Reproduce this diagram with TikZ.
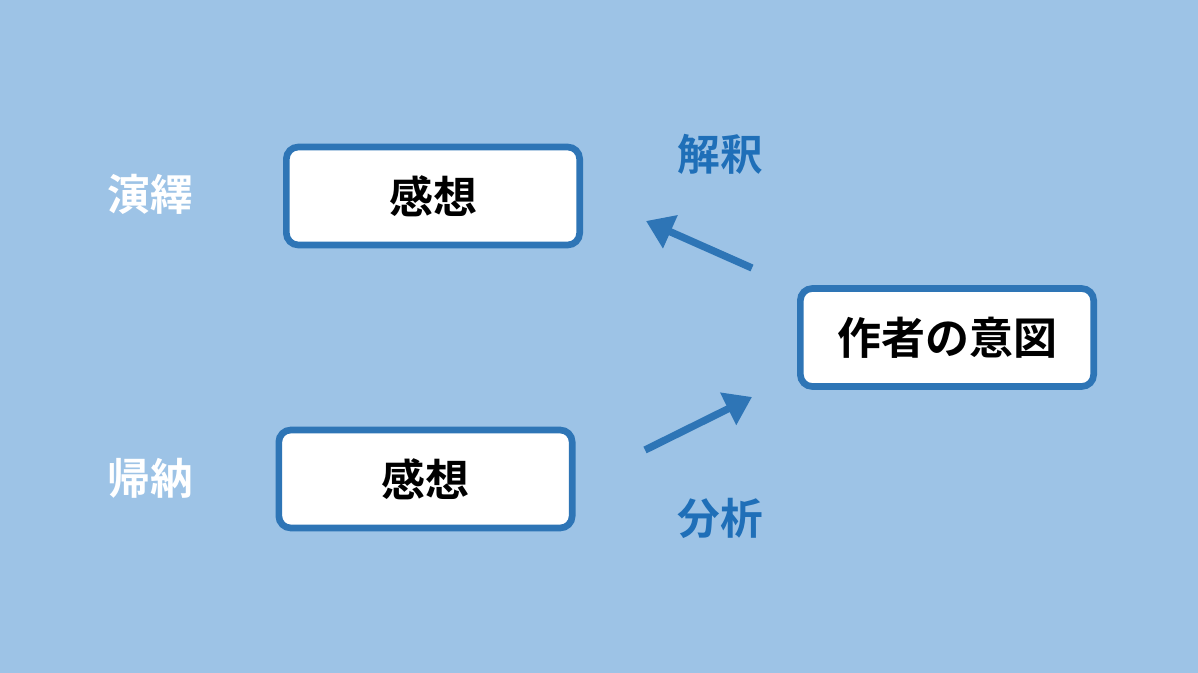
\documentclass[tikz,border=0pt]{standalone}
\usepackage{fontspec}
\newfontfamily\cjk{Noto Sans CJK JP Bold}
\usetikzlibrary{arrows.meta}
\definecolor{bg}{HTML}{9DC3E6}
\definecolor{bd}{HTML}{2E75B6}
\definecolor{lb}{HTML}{1F6FB8}
\begin{document}
\begin{tikzpicture}[x=0.75pt,y=-0.75pt,
  box/.style={draw=bd,line width=5pt,fill=white,rounded corners=9pt,minimum width=220pt,minimum height=73.5pt,font=\cjk\fontsize{33}{40}\selectfont,text=black},
  wl/.style={font=\cjk\fontsize{32}{38}\selectfont,text=white},
  bl/.style={font=\cjk\fontsize{32}{38}\selectfont,text=lb},
  arr/.style={draw=bd,line width=5.5pt,-{Triangle[length=20pt,width=26pt]}}]
\fill[bg] (0,0) rectangle (1198,673);
\node[box] (a) at (433,196) {感想};
\node[box] (b) at (425.5,479) {感想};
\node[box] (c) at (947,337.5) {作者の意図};
\node[wl] (l1) at (150,194) {演繹};
\node[wl] (l2) at (150,478) {帰納};
\node[bl] (l3) at (720,154) {解釈};
\node[bl] (l4) at (720,518) {分析};
\coordinate (s1) at (752,268);
\coordinate (e1) at (646,221);
\coordinate (s2) at (645,450);
\coordinate (e2) at (752,397);
\draw[arr] (s1) -- (e1);
\draw[arr] (s2) -- (e2);
\end{tikzpicture}
\end{document}
